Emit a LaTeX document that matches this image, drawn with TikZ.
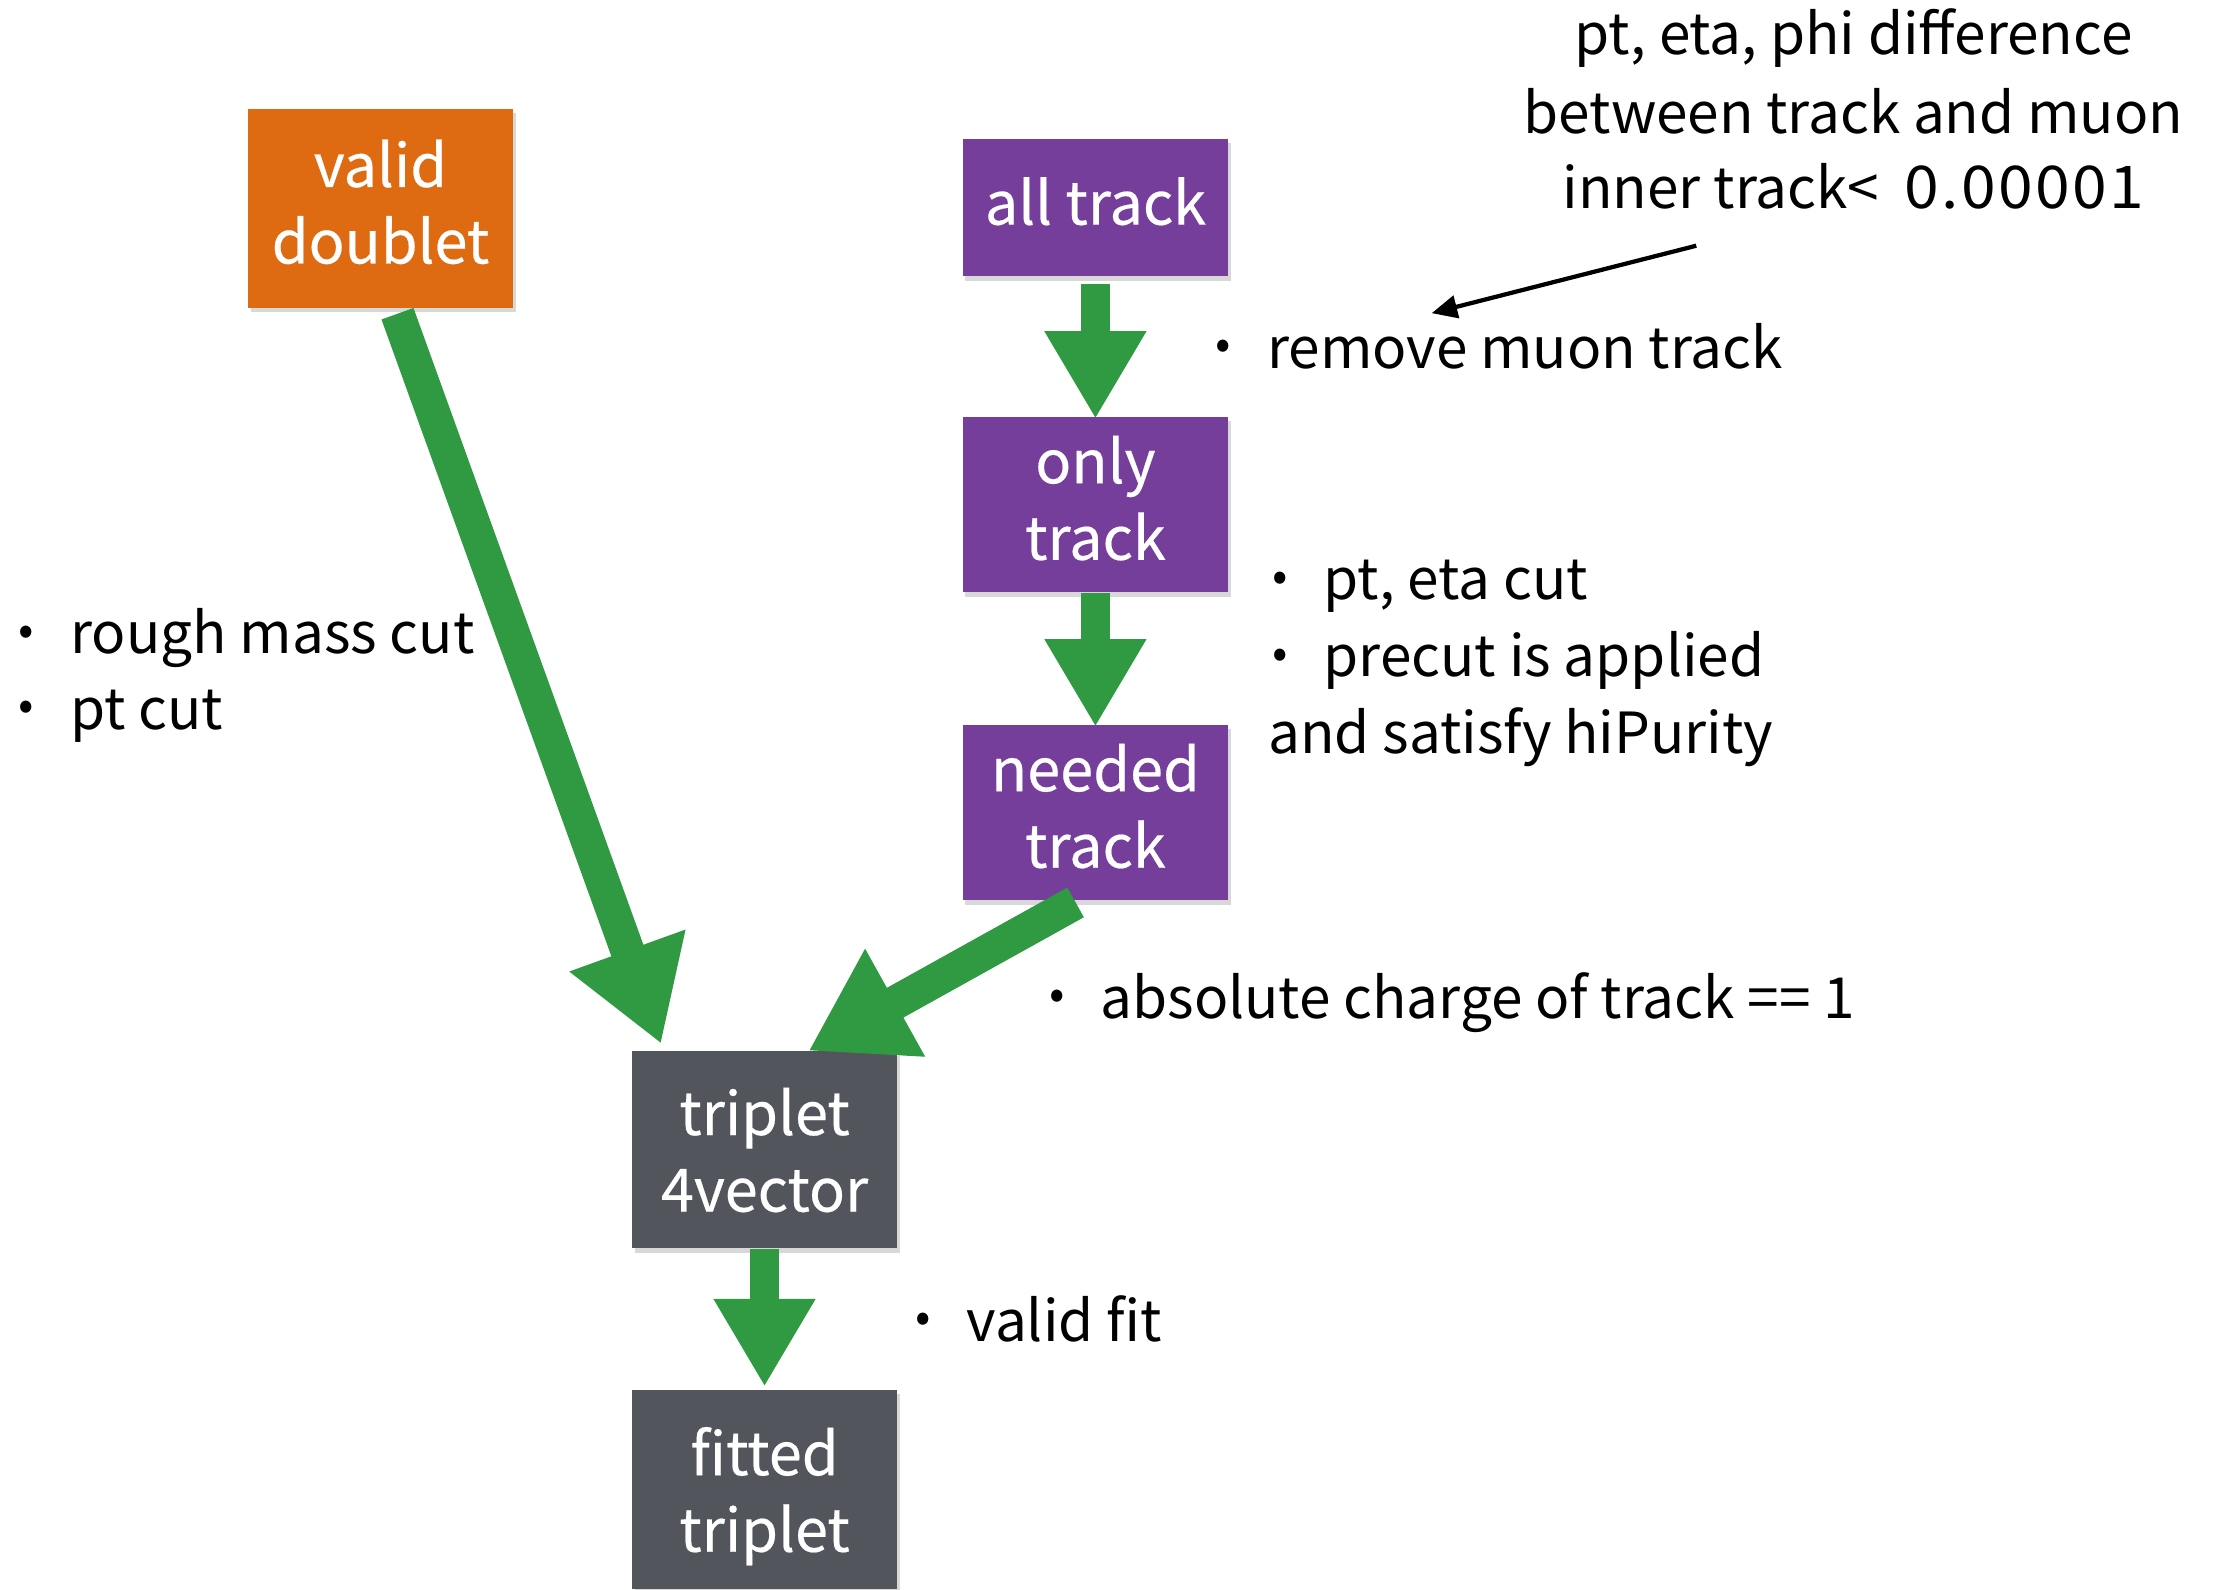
\documentclass[tikz,border=0pt]{standalone}
\usepackage{fontspec}
\setmainfont{Noto Sans CJK KR}
\newfontfamily\boxfont[FakeBold=0.35]{Noto Sans CJK KR}
\usetikzlibrary{arrows.meta,shadows,calc}
\definecolor{cOrange}{RGB}{222,107,18}
\definecolor{cPurple}{RGB}{118,62,155}
\definecolor{cGray}{RGB}{82,86,92}
\definecolor{cGreen}{RGB}{47,154,66}
\newcommand\bul{\llap{\makebox[0pt][c]{\raisebox{3pt}{\fontsize{16pt}{16pt}\selectfont •}}\hspace{15.5pt}}}
\newcommand\nodepth[1]{\raisebox{0pt}[\height][0pt]{#1}}
\begin{document}
\begin{tikzpicture}[x=0.5pt,y=-0.5pt,
  box/.style={minimum width=93.7pt, inner sep=0pt, align=center, text=white,
    font=\boxfont\fontsize{21pt}{27pt}\selectfont,
    drop shadow={shadow xshift=1pt, shadow yshift=-1.5pt, opacity=0.3}},
  lbl/.style={anchor=base west, inner sep=0pt, font=\fontsize{20pt}{27pt}\selectfont},
  note/.style={anchor=base, inner sep=0pt, font=\fontsize{20pt}{27pt}\selectfont},
  vflow/.style={draw=cGreen, line width=10.5pt, -{Triangle[length=31pt,width=33.7pt]}},
  dflow/.style={draw=cGreen, line width=12pt, -{Triangle[length=35pt,width=41pt]}},
  pointer/.style={draw=black, line width=1.5pt, -{Triangle[length=9pt,width=8pt]}}
]
\useasboundingbox (0,0) rectangle (1568,1122);
\fill[white] (0,0) rectangle (1568,1122);

% boxes
\node[box, fill=cOrange, minimum height=70pt] (doublet) at (268.5,147) {valid\\doublet\vphantom{p}};
\node[box, fill=cPurple, minimum height=48.5pt] (alltrack) at (773,146.6) {all track\vphantom{p}};
\node[box, fill=cPurple, minimum height=62pt] (onlytrack) at (773,356.1) {only\\track\vphantom{p}};
\node[box, fill=cPurple, minimum height=62pt] (needed) at (773,573.4) {needed\\track\vphantom{p}};
\node[box, fill=cGray, minimum height=69.5pt] (triplet) at (539.5,811.5) {triplet\\4vector};
\node[box, fill=cGray, minimum height=70pt] (fitted) at (539.5,1051) {fitted\\\nodepth{triplet}};

% green flow arrows
\draw[vflow] ($(alltrack.south)+(0,5)$) -- ($(onlytrack.north)+(0,2)$);
\draw[vflow] (onlytrack.south) -- ($(needed.north)+(0,2)$);
\draw[vflow] (triplet.south) -- ($(fitted.north)+(0,-2)$);
\draw[dflow] ($(doublet.south)+(12,4)$) -- ($(triplet.north)+(-73,-5)$);
\draw[dflow] ($(needed.south)+(-14,1)$) -- ($(triplet.north)+(31,0)$);

% labels
\node[lbl] (lrough) at (49.4,461.5) {\bul rough mass cut};
\node[lbl] (lpt) at (49.4,514.7) {\bul pt cut};
\node[lbl] (lremove) at (894,259.9) {\bul remove muon track};
\node[lbl] (lpteta) at (933.7,423.4) {\bul pt, eta cut};
\node[lbl] (lprecut) at (933.7,477.5) {\bul precut is applied};
\node[lbl] (lhipur) at (894.7,531.6) {and satisfy hiPurity};
\node[lbl] (labs) at (776.3,718.4) {\bul absolute charge of track == 1};
\node[lbl] (lfit) at (681.8,946.3) {\bul valid fit};

% annotation
\node[note] (n1) at (1308,38.8) {pt, eta, phi difference};
\node[note] (n2) at (1308,94.1) {between track and muon};
\node[note] (n3) at (1308,147) {inner track<\ \ \scalebox{1.1}[1.04]{\addfontfeatures{LetterSpace=4}0.00001}};
\coordinate (ps) at (1197,173.4);
\coordinate (pt) at (1010.3,221);
\draw[pointer] (ps) -- (pt);
\end{tikzpicture}
\end{document}
